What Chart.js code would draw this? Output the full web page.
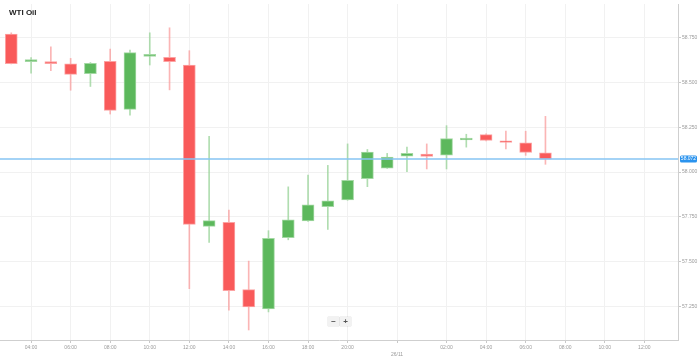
<!DOCTYPE html>
<html><head><meta charset="utf-8">
<script src="https://cdn.jsdelivr.net/npm/chart.js@4/dist/chart.umd.min.js"></script>
<style>
html,body{margin:0;padding:0;background:#fff;}
#wrap{position:relative;width:699px;height:359px;overflow:hidden;}
canvas{display:block;}
#title{position:absolute;left:9px;top:8px;font:bold 8px "Liberation Sans",Arial,sans-serif;color:#222;}
.zb{position:absolute;top:317px;width:11px;height:9px;background:#f2f2f2;box-shadow:0 0 1px rgba(0,0,0,0.3);font:bold 8px/9px "Liberation Sans",Arial,sans-serif;color:#555;text-align:center;}
</style></head>
<body>
<div id="wrap"><canvas id="c" width="699" height="359"></canvas><div id="title">WTI Oil</div><div class="zb" style="left:328px">−</div><div class="zb" style="left:340px">+</div></div>
<script>
// hourly candles (25/11 03:00 → 26/11 07:00; 22:00 session break)
const categories = ['03:00','04:00','05:00','06:00','07:00','08:00','09:00','10:00','11:00','12:00','13:00','14:00','15:00','16:00','17:00','18:00','19:00','20:00','21:00','23:00','00:00','01:00','02:00','03:00','04:00','05:00','06:00','07:00'];
const futureSlots = ['08:00','09:00','10:00','11:00','12:00','13:00'];
const openValues  = [58.771,58.617,58.617,58.604,58.550,58.618,58.350,58.646,58.641,58.598,57.696,57.718,57.343,57.235,57.633,57.726,57.806,57.844,57.963,58.022,58.089,58.100,58.094,58.179,58.209,58.174,58.163,58.107];
const highValues  = [58.778,58.639,58.700,58.635,58.612,58.687,58.682,58.778,58.806,58.678,58.200,57.787,57.502,57.672,57.917,57.983,58.037,58.157,58.126,58.104,58.139,58.157,58.259,58.211,58.214,58.229,58.228,58.311];
const lowValues   = [58.604,58.552,58.567,58.457,58.478,58.324,58.317,58.598,58.459,57.348,57.607,57.228,57.117,57.218,57.621,57.724,57.679,57.842,57.918,58.020,58.002,58.017,58.017,58.139,58.174,58.129,58.093,58.043];
const closeValues = [58.606,58.628,58.606,58.546,58.607,58.344,58.667,58.657,58.617,57.707,57.728,57.337,57.246,57.629,57.733,57.817,57.839,57.954,58.111,58.083,58.104,58.087,58.187,58.189,58.176,58.165,58.109,58.072];
const xTickLabels = ['04:00','06:00','08:00','10:00','12:00','14:00','16:00','18:00','20:00','26/11','02:00','04:00','06:00','08:00','10:00','12:00'];
const yTickValues = [57.25,57.5,57.75,58.0,58.25,58.5,58.75];

const slots = categories.concat(futureSlots);
// tick positions found from slot list
const xTicks = [];
let from = 0;
xTickLabels.forEach(lbl => {
  if (lbl.indexOf('/') >= 0) {
    const idx = slots.indexOf('00:00', from);
    xTicks.push({value: idx - 0.5, label: lbl, date: true});
    from = idx;
  } else {
    const idx = slots.indexOf(lbl, from);
    xTicks.push({value: idx, label: lbl});
    from = idx + 1;
  }
});

const up = (i) => closeValues[i] >= openValues[i];
const bodyData = categories.map((c, i) => ({x: i, y: [openValues[i], closeValues[i]]}));
const wickData = categories.map((c, i) => ({x: i, y: [lowValues[i], highValues[i]]}));

const lastPrice = closeValues[closeValues.length - 1];

const priceLine = {
  id: 'priceLine',
  afterDatasetsDraw(chart) {
    const {ctx, chartArea, scales} = chart;
    const y = scales.y.getPixelForValue(lastPrice);
    ctx.save();
    ctx.strokeStyle = '#86c5f3';
    ctx.lineWidth = 1.5;
    ctx.beginPath();
    ctx.moveTo(chartArea.left, y);
    ctx.lineTo(chartArea.right, y);
    ctx.stroke();
    const bx = chartArea.right + 2, bw = 17, bh = 7;
    ctx.fillStyle = '#2a93ee';
    ctx.beginPath();
    ctx.roundRect(bx, y - bh / 2, bw, bh, 1.5);
    ctx.fill();
    ctx.fillStyle = '#fff';
    ctx.font = '5px "Liberation Sans", Arial, sans-serif';
    ctx.textAlign = 'center';
    ctx.textBaseline = 'middle';
    ctx.fillText(lastPrice.toFixed(3), bx + bw / 2, y);
    ctx.restore();
  }
};

new Chart(document.getElementById('c'), {
  type: 'bar',
  data: {
    datasets: [
      {
        label: 'wick',
        data: wickData,
        order: 2,
        grouped: false,
        barThickness: 1,
        backgroundColor: categories.map((c, i) => up(i) ? 'rgba(150,210,150,0.75)' : 'rgba(250,150,150,0.7)'),
        borderWidth: 0
      },
      {
        label: 'body',
        data: bodyData,
        order: 1,
        grouped: false,
        barThickness: 12,
        backgroundColor: categories.map((c, i) => up(i) ? '#5cb85c' : '#f95a5a'),
        borderColor: categories.map((c, i) => up(i) ? '#a3d8a3' : '#fca3a3'),
        borderWidth: 1,
        borderSkipped: false
      }
    ]
  },
  options: {
    responsive: false,
    animation: false,
    devicePixelRatio: 1,
    layout: {padding: {top: 2, left: 0, right: 0, bottom: 0}},
    plugins: {legend: {display: false}, tooltip: {enabled: false}, title: {display: false}},
    scales: {
      x: {
        type: 'linear',
        offset: false,
        min: -0.57,
        max: slots.length - 0.3,
        afterBuildTicks(scale) { scale.ticks = xTicks.map(t => ({value: t.value})); },
        afterFit(scale) { scale.height = 19; },
        ticks: {
          autoSkip: false,
          maxRotation: 0,
          padding: 1,
          color: '#9a9a9a',
          font: {size: 5, family: '"Liberation Sans", Arial, sans-serif', lineHeight: 1.4},
          callback(value, index) {
            const t = xTicks[index];
            return t.date ? ['', t.label] : t.label;
          }
        },
        grid: {offset: false, color: '#f1f1f1', tickLength: 3, tickColor: '#c8c8c8', drawTicks: true},
        border: {display: true, color: '#cfcfcf'}
      },
      y: {
        position: 'right',
        min: 57.061,
        max: 58.939,
        afterBuildTicks(scale) { scale.ticks = yTickValues.map(v => ({value: v})); },
        afterFit(scale) { scale.width = 21; },
        ticks: {
          padding: 1,
          color: '#9a9a9a',
          font: {size: 5, family: '"Liberation Sans", Arial, sans-serif'},
          callback(value) { return Number(value).toFixed(3); }
        },
        grid: {color: '#f1f1f1', tickLength: 3, tickColor: '#c8c8c8'},
        border: {display: true, color: '#cfcfcf'}
      }
    }
  },
  plugins: [priceLine]
});
</script>
</body></html>
